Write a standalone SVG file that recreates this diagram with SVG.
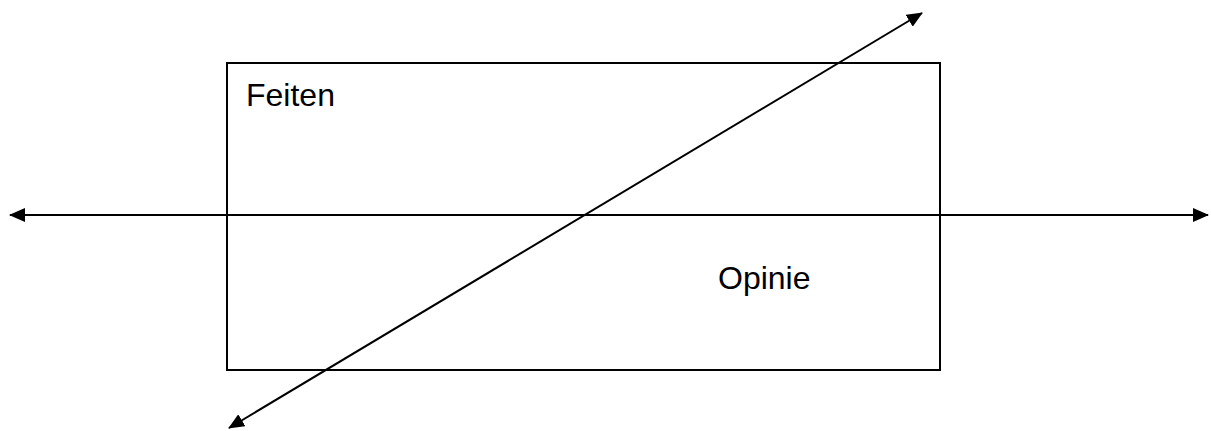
<svg xmlns="http://www.w3.org/2000/svg" width="1211" height="431" viewBox="0 0 1211 431">
<style>
.box{fill:none;stroke:#000;stroke-width:2}
.ln{stroke:#000;stroke-width:2;fill:none}
.t{font-family:"Liberation Sans",Arial,sans-serif;font-size:32px;fill:#000}
</style>
<defs>
<marker id="ah" viewBox="0 0 16 14" refX="15" refY="7" markerWidth="16" markerHeight="14" markerUnits="userSpaceOnUse" orient="auto-start-reverse">
<path d="M0,0 L16,7 L0,14 Z" fill="#000"/>
</marker>
</defs>
<rect width="1211" height="431" fill="#fff"/>
<g id="box">
<rect class="box" x="227" y="63" width="713" height="307"/>
<text class="t" x="246" y="106">Feiten</text>
<text class="t" x="718" y="289">Opinie</text>
</g>
<g id="connectors">
<line class="ln" x1="10" y1="215" x2="1208" y2="215" marker-start="url(#ah)" marker-end="url(#ah)"/>
<line class="ln" x1="229" y1="428" x2="922" y2="13" marker-start="url(#ah)" marker-end="url(#ah)"/>
</g>
</svg>
